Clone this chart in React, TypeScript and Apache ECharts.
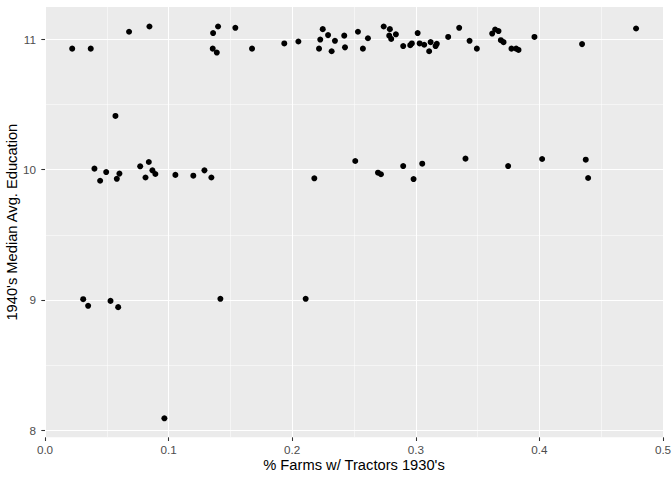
import React, { useEffect, useRef } from "react";
import * as echarts from "echarts";

const tractorsPct: number[] = [
  0.022, 0.037, 0.068, 0.0845, 0.136, 0.140, 0.1357, 0.139, 0.154, 0.1675,
  0.1936, 0.205, 0.2247, 0.229, 0.2227, 0.2217, 0.2346, 0.2319, 0.2421, 0.2427,
  0.2532, 0.2613, 0.2572, 0.274, 0.279, 0.2785, 0.2801, 0.2839, 0.2898, 0.2955,
  0.2968, 0.3015, 0.3031, 0.3068, 0.3108, 0.312, 0.316, 0.317, 0.3262, 0.3351,
  0.3435, 0.3494, 0.3618, 0.3642, 0.3669, 0.3688, 0.371, 0.3774, 0.3812, 0.3831,
  0.396, 0.4345, 0.4782,
  0.057, 0.040, 0.0446, 0.0495, 0.0581, 0.0602, 0.077, 0.084, 0.0813, 0.0869,
  0.0893, 0.1055, 0.12, 0.129, 0.1346, 0.2179, 0.251, 0.2694, 0.2718, 0.2898,
  0.2982, 0.3052, 0.3402, 0.3747, 0.4022, 0.4375, 0.4394,
  0.0309, 0.0349, 0.053, 0.0592, 0.1419, 0.2109, 0.0966,
];

const medianEdu: number[] = [
  10.93, 10.93, 11.06, 11.10, 11.05, 11.10, 10.93, 10.90, 11.09, 10.93,
  10.97, 10.985, 11.08, 11.034, 11.00, 10.93, 10.99, 10.91, 11.03, 10.94,
  11.06, 11.01, 10.93, 11.10, 11.08, 11.03, 11.005, 11.04, 10.95, 10.957,
  10.97, 11.05, 10.97, 10.96, 10.91, 10.98, 10.95, 10.967, 11.02, 11.09,
  10.99, 10.93, 11.046, 11.077, 11.065, 10.995, 10.98, 10.93, 10.93, 10.92,
  11.02, 10.965, 11.085,
  10.413, 10.008, 9.915, 9.982, 9.93, 9.97, 10.026, 10.059, 9.94, 9.995,
  9.967, 9.96, 9.954, 9.995, 9.94, 9.934, 10.067, 9.977, 9.965, 10.028,
  9.928, 10.046, 10.085, 10.028, 10.082, 10.077, 9.936,
  9.005, 8.954, 8.992, 8.944, 9.008, 9.008, 8.09,
];

const yTicks: number[] = [8, 9, 10, 11];
const yMinorGrid: number[] = [8.5, 9.5, 10.5];

const FONT = "'Liberation Sans', Arial, Helvetica, sans-serif";

export default function App() {
  const ref = useRef<HTMLDivElement>(null);

  useEffect(() => {
    if (!ref.current) return;
    const chart = echarts.init(ref.current, undefined, { renderer: "svg" });
    const points = tractorsPct.map((x, i) => [x, medianEdu[i]]);
    const gridLines = [
      ...yTicks.map((v) => ({ yAxis: v, lineStyle: { color: "#ffffff", width: 1.07, type: "solid" } })),
      ...yMinorGrid.map((v) => ({ yAxis: v, lineStyle: { color: "#ffffff", width: 0.53, type: "solid" } })),
    ];
    chart.setOption({
      animation: false,
      backgroundColor: "#ffffff",
      grid: {
        left: 45,
        right: 9,
        top: 7,
        bottom: 42.7,
        show: true,
        backgroundColor: "#EBEBEB",
        borderWidth: 0,
        containLabel: false,
        outerBoundsMode: "none",
      },
      xAxis: {
        type: "value",
        min: 0,
        max: 0.5,
        interval: 0.1,
        name: "% Farms w/ Tractors 1930's",
        nameLocation: "middle",
        nameGap: 20,
        nameMoveOverlap: false,
        nameTextStyle: { color: "#000000", fontSize: 14.7, fontFamily: FONT },
        axisLine: { show: false },
        axisTick: { show: true, length: 3.7, lineStyle: { color: "#333333", width: 1.07 } },
        axisLabel: {
          color: "#4D4D4D",
          fontSize: 11.7,
          fontFamily: FONT,
          margin: 6,
          formatter: (v: number) => v.toFixed(1),
        },
        splitLine: { show: true, lineStyle: { color: "#ffffff", width: 1.07 } },
        minorTick: { show: false, splitNumber: 2 },
        minorSplitLine: { show: true, lineStyle: { color: "#ffffff", width: 0.53 } },
      },
      yAxis: {
        type: "value",
        min: 7.944,
        max: 11.25,
        name: "1940's Median Avg. Education",
        nameLocation: "middle",
        nameGap: 26,
        nameMoveOverlap: false,
        nameTextStyle: { color: "#000000", fontSize: 14.7, fontFamily: FONT },
        axisLine: { show: false },
        axisTick: {
          show: true,
          length: 3.7,
          customValues: yTicks,
          lineStyle: { color: "#333333", width: 1.07 },
        },
        axisLabel: {
          color: "#4D4D4D",
          fontSize: 11.7,
          fontFamily: FONT,
          margin: 9,
          customValues: yTicks,
          formatter: (v: number) => String(v),
        },
        splitLine: { show: false },
      },
      series: [
        {
          type: "scatter",
          data: points,
          symbol: "circle",
          symbolSize: 6,
          itemStyle: { color: "#000000", opacity: 1 },
          z: 3,
          markLine: {
            silent: true,
            symbol: "none",
            z: 1,
            label: { show: false },
            animation: false,
            data: gridLines,
          },
        },
      ],
    });
    return () => chart.dispose();
  }, []);

  return (
    <div
      ref={ref}
      style={{ position: "fixed", left: 0, top: 0, width: 672, height: 480 }}
    />
  );
}
